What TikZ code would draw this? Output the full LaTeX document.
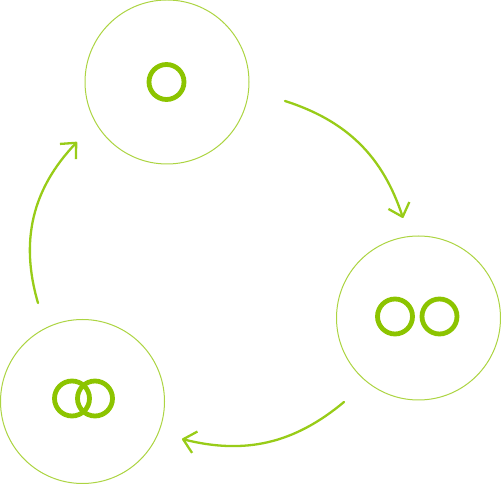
\documentclass[tikz,border=0pt]{standalone}
\usepackage{tikz}
\usetikzlibrary{arrows.meta,positioning}
\definecolor{leaf}{RGB}{140,196,0}
\definecolor{pale}{RGB}{172,212,66}
\definecolor{stem}{RGB}{152,204,24}

\begin{document}
\begin{tikzpicture}[x=1pt,y=1pt,
  big/.style={circle,draw=pale,line width=1pt,inner sep=0pt,minimum size=164pt},
  ring/.style={circle,draw=leaf,line width=4.8pt,inner sep=0pt,minimum size=35pt},
  flow/.style={draw=stem,line width=2.3pt,line cap=round,bend left=27,
    -{Straight Barb[length=12pt,width=22pt,line join=round]}}]

  \useasboundingbox (0,0) rectangle (501,484);

  \node[big]  (T)  at (167,402)   {};
  \node[big]  (R)  at (418.5,166) {};
  \node[big]  (L)  at (82.5,82.5) {};

  \node[ring] (t1) at (166.5,402)   {};
  \node[ring] (r1) at (395,167.5)   {};
  \node[ring] (r2) at (439.5,167.5) {};
  \node[ring] (l1) at (72,85.5)     {};
  \node[ring] (l2) at (95,85.5)     {};

  \coordinate (TR) at (285,383);
  \coordinate (RT) at (403,266);
  \coordinate (RL) at (344,82);
  \coordinate (LR) at (182,45);
  \coordinate (LT) at (38,181);
  \coordinate (TL) at (77,342);

  \path (TR) edge [flow] (RT)
        (RL) edge [flow] (LR)
        (LT) edge [flow, bend left=30] (TL);
\end{tikzpicture}
\end{document}
